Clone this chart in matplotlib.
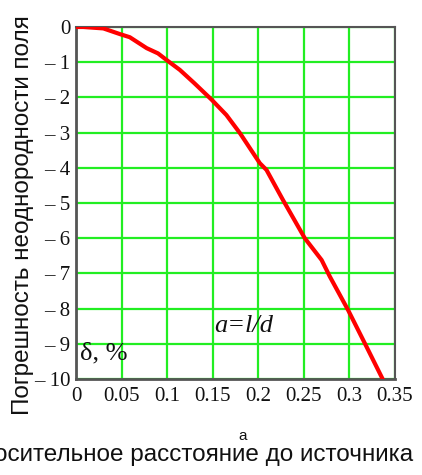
import matplotlib
matplotlib.use("Agg")
import matplotlib.pyplot as plt
from matplotlib.ticker import FixedLocator

# Relative distance a = l/d and field non-uniformity error, %
a_values = [0.0, 0.008, 0.03, 0.048, 0.059, 0.0775, 0.09, 0.0995, 0.114, 0.13,
            0.149, 0.165, 0.18, 0.2017, 0.209, 0.227, 0.24, 0.251, 0.2695,
            0.2785, 0.2985, 0.3187, 0.337]
delta_values = [0.0, 0.0, -0.04, -0.2, -0.29, -0.6, -0.75, -0.94, -1.22, -1.6,
                -2.07, -2.5, -3.02, -3.87, -4.06, -4.91, -5.5, -6.0, -6.62,
                -7.09, -8.04, -9.08, -10.03]

x_ticks = [0, 0.05, 0.1, 0.15, 0.2, 0.25, 0.3, 0.35]
x_tick_labels = ["0", "0.05", "0.1", "0.15", "0.2", "0.25", "0.3", "0.35"]
y_ticks = [0, -1, -2, -3, -4, -5, -6, -7, -8, -9, -10]

serif = ["Liberation Serif", "DejaVu Serif"]
sans = ["Liberation Sans", "DejaVu Sans"]

fig = plt.figure(figsize=(4.22, 4.75), dpi=100)
ax = fig.add_axes([76 / 422, 1 - 379 / 475, 319 / 422, 352 / 475])

ax.plot(a_values, delta_values, color="#ff0000", lw=3.0, solid_capstyle="butt",
        solid_joinstyle="round", zorder=3, clip_on=True)

ax.set_xlim(0, 0.35)
ax.set_ylim(-10, 0)
ax.xaxis.set_major_locator(FixedLocator(x_ticks))
ax.yaxis.set_major_locator(FixedLocator(y_ticks))
ax.set_xticklabels(x_tick_labels, fontfamily=serif, fontsize=15)
ax.set_yticklabels(["0" if v == 0 else "\u2013 %d" % abs(v) for v in y_ticks],
                   fontfamily=serif, fontsize=15)
ax.tick_params(axis="both", length=0, pad=4, colors="#111111")
ax.tick_params(axis="x", pad=6)

ax.grid(True, color="#22ee22", lw=1.6, zorder=1)
ax.set_axisbelow(True)
for side in ax.spines.values():
    side.set_color("#555555")
    side.set_linewidth(1.5)
ax.spines["left"].set_linewidth(2.0)
ax.spines["bottom"].set_linewidth(2.0)

ax.text(0.004, -9.28, "\u03b4, %", fontfamily=serif, fontsize=19,
        ha="left", va="center", color="#111111")
ax.text(0.152, -8.5, "a=l/d", fontfamily=serif, fontstyle="italic",
        fontsize=19, ha="left", va="center", color="#111111")

fig.text(243 / 422, 1 - 436 / 475, "a", fontfamily=sans, fontsize=11,
         ha="center", va="center", color="#111111")
fig.text(413 / 422, 1 - 455 / 475, "Относительное расстояние до источника",
         fontfamily=sans, fontsize=17.5, ha="right", va="center", color="#111111")
fig.text(23 / 422, 1 - 215 / 475, "Погрешность неоднородности поля",
         fontfamily=sans, fontsize=17.5, rotation=90, ha="center", va="center",
         color="#111111")

fig.savefig("out.png", dpi=100)
